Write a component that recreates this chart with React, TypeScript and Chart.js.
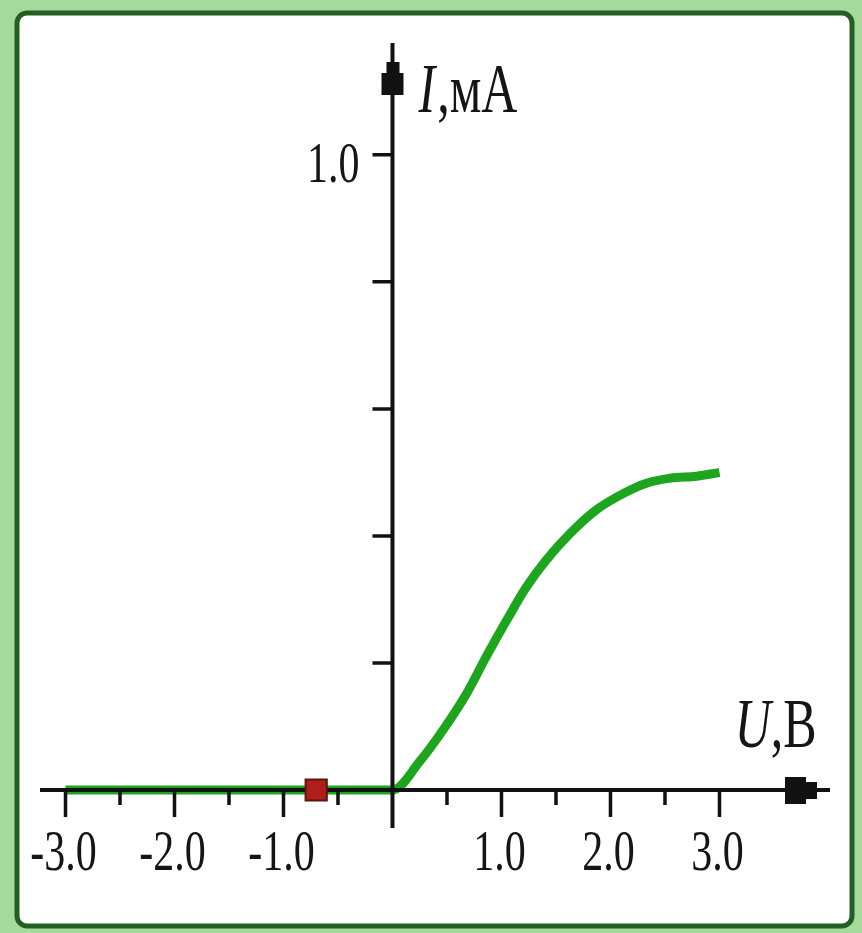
import React, { useEffect, useRef } from "react";
import { Chart, registerables } from "chart.js";
Chart.register(...registerables);

// I–V curve (U in volts, I in mA)
const curveU = [-3.0, 0.0, 0.25, 0.47, 0.68, 0.86, 1.05, 1.23, 1.41, 1.63, 1.87, 2.12, 2.33, 2.55, 2.79, 2.94, 3.0];
const curveI = [0, 0, 0.045, 0.096, 0.152, 0.21, 0.268, 0.32, 0.362, 0.404, 0.441, 0.467, 0.483, 0.491, 0.494, 0.498, 0.5];
const markerU = [-0.7];
const markerI = [0];

const xTickValues = [-3, -2, -1, 1, 2, 3];
const xTickLabels = ["-3.0", "-2.0", "-1.0", "1.0", "2.0", "3.0"];
const xMinorTicks = [-2.5, -1.5, -0.5, 0.5, 1.5, 2.5];
const yTickValues = [0.2, 0.4, 0.6, 0.8, 1.0];
const yTickLabels = ["", "", "", "", "1.0"];
const xAxisName = ["U", ",B"];
const yAxisName = ["I", ",мА"];

const X_MIN = -3.234;
const X_MAX = 4.014;
const Y_MIN = -0.0598;
const Y_MAX = 1.176;

const FONT = '"Liberation Serif", "Times New Roman", serif';

function stretched(ctx: CanvasRenderingContext2D, text: string, x: number, y: number, align: CanvasTextAlign, size: number, sx: number, sy: number, italic = false) {
  ctx.save();
  ctx.translate(x, y);
  ctx.scale(sx, sy);
  ctx.font = `${italic ? "italic " : ""}${size}px ${FONT}`;
  ctx.textAlign = align;
  ctx.textBaseline = "alphabetic";
  ctx.fillText(text, 0, 0);
  const w = ctx.measureText(text).width * sx;
  ctx.restore();
  return w;
}

const framePlugin = {
  id: "frame",
  beforeDraw(chart: any) {
    const ctx: CanvasRenderingContext2D = chart.ctx;
    const W = chart.width, H = chart.height;
    ctx.save();
    ctx.fillStyle = "#a6da9d";
    ctx.fillRect(0, 0, W, H);
    ctx.beginPath();
    (ctx as any).roundRect(17, 13, W - 17 - 10, H - 13 - 7, 10);
    ctx.fillStyle = "#ffffff";
    ctx.fill();
    ctx.lineWidth = 5;
    ctx.strokeStyle = "#235f23";
    ctx.stroke();
    ctx.restore();
  },
};

const axesPlugin = {
  id: "axesDraw",
  afterDatasetDraw(chart: any, args: any) {
    if (args.index !== 0) return;
    const ctx: CanvasRenderingContext2D = chart.ctx;
    const xs = chart.scales.x, ys = chart.scales.y;
    const x0 = xs.getPixelForValue(0);
    const y0 = ys.getPixelForValue(0);
    ctx.save();
    ctx.strokeStyle = "#111111";
    ctx.fillStyle = "#111111";
    ctx.lineCap = "butt";
    // axis lines
    ctx.lineWidth = 4;
    ctx.beginPath();
    ctx.moveTo(xs.left, y0);
    ctx.lineTo(xs.right, y0);
    ctx.moveTo(x0, ys.bottom);
    ctx.lineTo(x0, ys.top);
    ctx.stroke();
    // x arrow head
    const ar = xs.right;
    ctx.fillRect(ar - 45, y0 - 13, 21, 27);
    ctx.fillRect(ar - 25, y0 - 8, 12, 17);
    // y arrow head
    const at = ys.top;
    ctx.fillRect(x0 - 11, at + 30, 22, 22);
    ctx.fillRect(x0 - 6, at + 19, 13, 12);
    // ticks
    ctx.lineWidth = 3.5;
    ctx.beginPath();
    xTickValues.forEach((v) => {
      const px = xs.getPixelForValue(v);
      ctx.moveTo(px, y0);
      ctx.lineTo(px, y0 + 27);
    });
    xMinorTicks.forEach((v) => {
      const px = xs.getPixelForValue(v);
      ctx.moveTo(px, y0);
      ctx.lineTo(px, y0 + 15);
    });
    yTickValues.forEach((v) => {
      const py = ys.getPixelForValue(v);
      ctx.moveTo(x0 - 20, py);
      ctx.lineTo(x0, py);
    });
    ctx.stroke();
    // tick labels
    ctx.fillStyle = "#151515";
    xTickValues.forEach((v, i) => {
      const px = xs.getPixelForValue(v);
      stretched(ctx, xTickLabels[i], px - 2, y0 + 80, "center", 40, 1.05, 1.45);
    });
    yTickValues.forEach((v, i) => {
      if (!yTickLabels[i]) return;
      const py = ys.getPixelForValue(v);
      stretched(ctx, yTickLabels[i], x0 - 33, py + 27, "right", 40, 1.05, 1.45);
    });
    // axis names
    let w = stretched(ctx, yAxisName[0], x0 + 26, ys.getPixelForValue(1.0) - 43, "left", 50, 1.0, 1.4, true);
    stretched(ctx, yAxisName[1], x0 + 26 + w + 2, ys.getPixelForValue(1.0) - 43, "left", 50, 1.0, 1.4);
    w = stretched(ctx, xAxisName[0], xs.getPixelForValue(3.14), y0 - 43, "left", 50, 1.0, 1.4, true);
    stretched(ctx, xAxisName[1], xs.getPixelForValue(3.14) + w, y0 - 43, "left", 50, 1.0, 1.4);
    ctx.restore();
  },
};

export default function App() {
  const ref = useRef<HTMLCanvasElement | null>(null);
  useEffect(() => {
    if (!ref.current) return;
    const chart = new Chart(ref.current, {
      type: "scatter",
      data: {
        datasets: [
          {
            label: "I(U)",
            data: curveU.map((u, i) => ({ x: u, y: curveI[i] })),
            showLine: true,
            borderColor: "#1da51d",
            borderWidth: 9,
            pointRadius: 0,
            cubicInterpolationMode: "monotone",
            order: 2,
          },
          {
            label: "point",
            data: markerU.map((u, i) => ({ x: u, y: markerI[i] })),
            pointStyle: "rect",
            pointRadius: 15,
            backgroundColor: "#b01e1a",
            borderColor: "#5a1510",
            borderWidth: 2,
            order: 1,
          },
        ],
      },
      options: {
        animation: false,
        responsive: true,
        maintainAspectRatio: false,
        layout: { padding: { left: 40, right: 32, top: 43, bottom: 105 } },
        plugins: { legend: { display: false }, tooltip: { enabled: false } },
        scales: {
          x: { type: "linear", min: X_MIN, max: X_MAX, display: false },
          y: { type: "linear", min: Y_MIN, max: Y_MAX, display: false },
        },
      } as any,
      plugins: [framePlugin, axesPlugin],
    });
    return () => chart.destroy();
  }, []);
  return (
    <div style={{ position: "absolute", left: 0, top: 0, width: 862, height: 933 }}>
      <canvas ref={ref} />
    </div>
  );
}
